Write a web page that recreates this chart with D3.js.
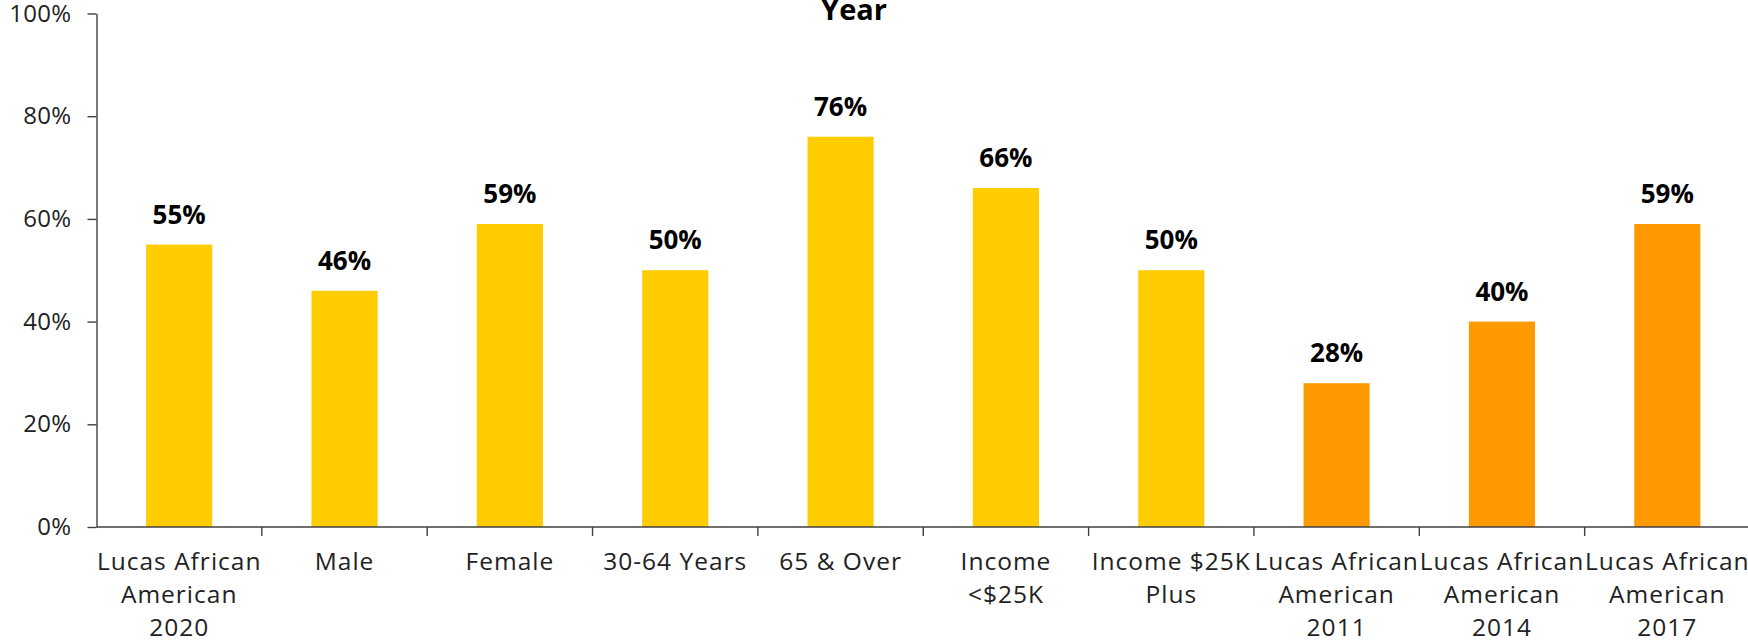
<!DOCTYPE html>
<html><head><meta charset="utf-8">
<script src="https://cdn.jsdelivr.net/npm/d3@7"></script>
<style>
html,body{margin:0;padding:0;background:#fff;}
svg{display:block;}
</style></head>
<body><svg id="chart" width="1748" height="641"></svg>
<script>
const categories = [
  "Lucas African\nAmerican\n2020",
  "Male",
  "Female",
  "30-64 Years",
  "65 & Over",
  "Income\n<$25K",
  "Income $25K\nPlus",
  "Lucas African\nAmerican\n2011",
  "Lucas African\nAmerican\n2014",
  "Lucas African\nAmerican\n2017"
];
const values = [0.55, 0.46, 0.59, 0.50, 0.76, 0.66, 0.50, 0.28, 0.40, 0.59];
const groups = ["current","current","current","current","current","current","current","trend","trend","trend"];
const yTicks = [0, 0.2, 0.4, 0.6, 0.8, 1.0];
const titleText = "Year";

const colors = {current: "#FFCC00", trend: "#FF9900"};
const axisColor = "#404040";
const font = "'Open Sans', 'Noto Sans', sans-serif";

const svg = d3.select("#chart");
const x = d3.scaleBand().domain(d3.range(categories.length)).range([96.5, 1750]).paddingInner(0.6).paddingOuter(0.3);
const y = d3.scaleLinear().domain([0, 1]).range([527, 13.5]);

// bars
svg.append("g").selectAll("rect").data(values).join("rect")
  .attr("x", (d,i) => x(i))
  .attr("width", x.bandwidth())
  .attr("y", d => y(d))
  .attr("height", d => y(0) - y(d))
  .attr("fill", (d,i) => colors[groups[i]]);

// data labels
svg.append("g").selectAll("text").data(values).join("text")
  .attr("x", (d,i) => x(i) + x.bandwidth()/2)
  .attr("y", d => y(d) - 21)
  .attr("text-anchor", "middle")
  .attr("font-family", font)
  .attr("font-weight", "bold")
  .attr("font-size", 26)
  .attr("fill", "#000")
  .text(d => d3.format(".0%")(d));

// y axis
const yAxis = svg.append("g").attr("transform", `translate(96.5,0)`)
  .call(d3.axisLeft(y).tickValues(yTicks).tickFormat(d3.format(".0%")).tickSize(9).tickSizeOuter(0).tickPadding(16));
yAxis.select(".domain").attr("stroke", axisColor).attr("stroke-width", 1.4);
yAxis.selectAll(".tick line").attr("stroke", axisColor).attr("stroke-width", 1.4);
yAxis.selectAll(".tick text").attr("font-family", font).attr("font-size", 24).attr("letter-spacing", 0.3).attr("fill", "#222");

// x axis with ticks at category boundaries
const step = x.step();
const boundaries = d3.range(categories.length + 1).map(i => x(0) - x.paddingOuter()*step + i*step);
const xg = svg.append("g").attr("transform", `translate(0,${y(0)})`);
xg.append("line").attr("x1", 96.5).attr("x2", 1750).attr("y1", 0).attr("y2", 0)
  .attr("stroke", axisColor).attr("stroke-width", 1.4);
xg.selectAll("line.tk").data(boundaries.slice(1, -1)).join("line").attr("class","tk")
  .attr("x1", d => d).attr("x2", d => d).attr("y1", 0).attr("y2", 9)
  .attr("stroke", axisColor).attr("stroke-width", 1.4);
const lbl = xg.selectAll("text.cat").data(categories).join("text").attr("class","cat")
  .attr("text-anchor", "middle")
  .attr("font-family", font).attr("font-size", 24.5).attr("letter-spacing", 1.0).attr("fill", "#222")
  .attr("transform", (d,i) => `translate(${x(i) + x.bandwidth()/2},0)`);
lbl.each(function(d){
  const lines = d.split("\n");
  d3.select(this).selectAll("tspan").data(lines).join("tspan")
    .attr("x", 0).attr("y", (l,j) => 43 + j*33).text(l => l);
});

// title
svg.append("text").attr("x", 854).attr("y", 20).attr("text-anchor", "middle")
  .attr("font-family", font).attr("font-weight", "bold").attr("font-size", 29).attr("fill", "#000")
  .text(titleText);
</script></body></html>
